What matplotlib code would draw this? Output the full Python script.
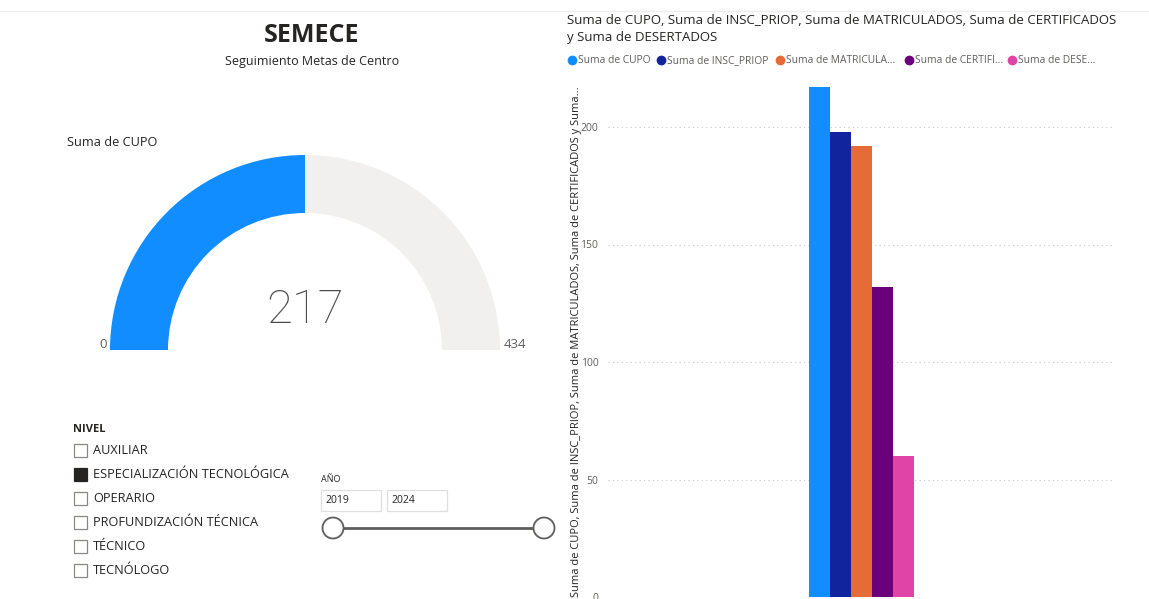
import matplotlib
matplotlib.use("Agg")
import matplotlib.pyplot as plt
from matplotlib.patches import Wedge, Rectangle, Circle

plt.rcParams['font.family'] = ['Open Sans', 'DejaVu Sans']

# data
series = ["Suma de CUPO", "Suma de INSC_PRIOP", "Suma de MATRICULADOS",
          "Suma de CERTIFICADOS", "Suma de DESERTADOS"]
legend_labels = ["Suma de CUPO", "Suma de INSC_PRIOP", "Suma de MATRICULA...",
                 "Suma de CERTIFI...", "Suma de DESE..."]
values = [217, 198, 192, 132, 60]
colors = ["#118DFF", "#12239E", "#E66C37", "#6B007B", "#E044A7"]
yticks = [0, 50, 100, 150, 200]

gauge_value = 217
gauge_max = 434

niveles = ["AUXILIAR", "ESPECIALIZACIÓN TECNOLÓGICA", "OPERARIO",
           "PROFUNDIZACIÓN TÉCNICA", "TÉCNICO", "TECNÓLOGO"]
nivel_checked = [False, True, False, False, False, False]
anio_desde = 2019
anio_hasta = 2024

W, H = 1149, 599
fig = plt.figure(figsize=(W / 100, H / 100), dpi=100)
fig.patch.set_facecolor("white")

def px(x0, y0, w, h):
    # pixel box (top-left origin) -> figure fraction
    return [x0 / W, 1 - (y0 + h) / H, w / W, h / H]

# overlay for texts and widgets, pixel coordinates
ov = fig.add_axes([0, 0, 1, 1])
ov.set_xlim(0, W)
ov.set_ylim(H, 0)
ov.axis("off")

ov.plot([0, W], [11, 11], color="#EDEDED", lw=1)

# header
ov.text(312, 36, "SEMECE", ha="center", va="center", fontsize=18,
        fontweight="bold", color="#252423")
ov.text(312, 61, "Seguimiento Metas de Centro", ha="center", va="center",
        fontsize=9, color="#252423")

# gauge
ov.text(67, 142, "Suma de CUPO", ha="left", va="center", fontsize=9.2,
        color="#252423")
gx = fig.add_axes(px(100, 150, 420, 205))
gx.set_xlim(100, 520)
gx.set_ylim(H - 355, H - 150)
gx.axis("off")
cx, cy = 305, H - 350
ang = 180 - 180 * gauge_value / gauge_max
gx.add_patch(Wedge((cx, cy), 195, 0, ang, width=58, color="#F1F0EF", lw=0))
gx.add_patch(Wedge((cx, cy), 195, ang, 180, width=58, color="#118DFF", lw=0))
gx.text(cx, cy + 40, str(gauge_value), ha="center", va="center",
        fontsize=34, color="#4A4A4A", family="Roboto", fontweight="light")
ov.text(103, 344, "0", ha="center", va="center", fontsize=9.5, color="#605E5C")
ov.text(515, 344, str(gauge_max), ha="center", va="center", fontsize=9.5,
        color="#605E5C")

# nivel slicer
ov.text(73, 430, "NIVEL", ha="left", va="center", fontsize=8,
        fontweight="bold", color="#252423")
for i, (name, chk) in enumerate(zip(niveles, nivel_checked)):
    y = 450 + i * 24
    ov.add_patch(Rectangle((74, y - 6.5), 13, 13,
                           facecolor="#252423" if chk else "white",
                           edgecolor="#252423" if chk else "#8A8886", lw=0.9))
    ov.text(93, y, name, ha="left", va="center", fontsize=9.2, color="#252423")

# año slider
ov.text(321, 479, "AÑO", ha="left", va="center", fontsize=6.5, color="#252423")
for x0, val in [(321, anio_desde), (387, anio_hasta)]:
    ov.add_patch(Rectangle((x0, 490), 60, 21, facecolor="white",
                           edgecolor="#E1DFDD", lw=0.9))
    ov.text(x0 + 4, 500.5, str(val), ha="left", va="center", fontsize=7.5,
            color="#252423")
ov.plot([333, 544], [528, 528], color="#605E5C", lw=2, zorder=2)
for x0 in (333, 544):
    ov.add_patch(Circle((x0, 528), 10.5, facecolor="white",
                        edgecolor="#605E5C", lw=1.3, zorder=3))

# bar chart
ov.text(567, 20, "Suma de CUPO, Suma de INSC_PRIOP, Suma de MATRICULADOS, "
        "Suma de CERTIFICADOS", ha="left", va="center", fontsize=9.5,
        color="#252423")
ov.text(567, 37, "y Suma de DESERTADOS", ha="left", va="center", fontsize=9.5,
        color="#252423")
leg_x = [572, 661, 780, 909, 1012]
for x0, lab, c in zip(leg_x, legend_labels, colors):
    ov.plot(x0, 60, "o", color=c, ms=6)
    ov.text(x0 + 6, 60.5, lab, ha="left", va="center", fontsize=7.4,
            color="#605E5C")
ov.text(576, 597, "Suma de CUPO, Suma de INSC_PRIOP, Suma de MATRICULADOS, "
        "Suma de CERTIFICADOS y Suma...", rotation=90, ha="center",
        va="bottom", fontsize=8, color="#252423")

ax = fig.add_axes(px(608, 80, 507, 517))
bw = 21 / 507
for i, (v, c) in enumerate(zip(values, colors)):
    ax.bar((i - 2) * bw, v, width=bw, color=c, lw=0)
ax.set_xlim(-0.5, 0.5)
ax.set_ylim(0, 220)
ax.set_yticks(yticks)
ax.set_xticks([])
ax.tick_params(axis="y", length=0, pad=7, labelsize=7.5, labelcolor="#605E5C")
ax.grid(axis="y", color="#C8C6C4", linestyle=(0, (1, 3)), lw=0.8)
ax.set_axisbelow(True)
for s in ax.spines.values():
    s.set_visible(False)
ax.patch.set_alpha(0)

fig.savefig("out.png", dpi=100, facecolor="white")
